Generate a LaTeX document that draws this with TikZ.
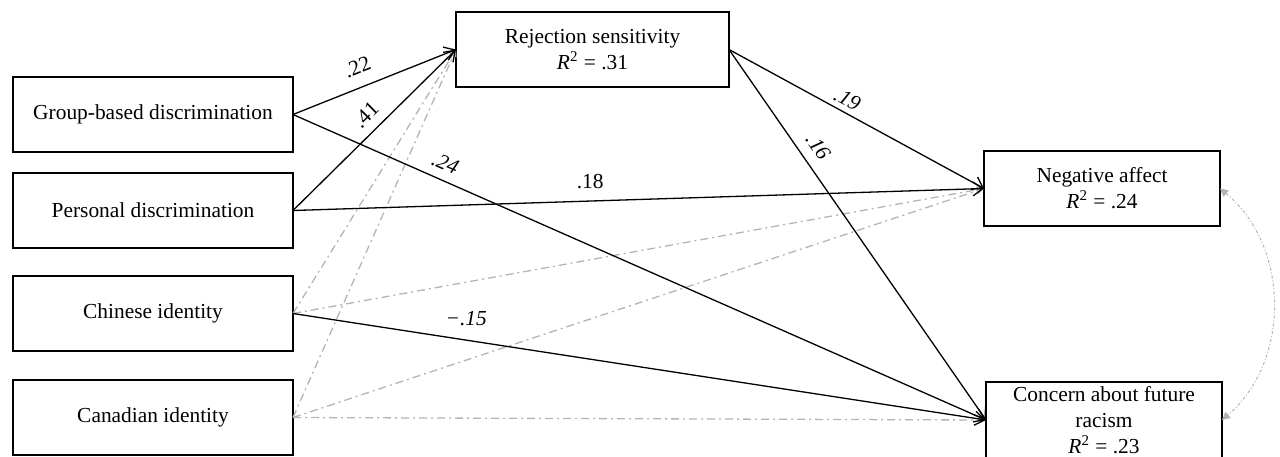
\documentclass[tikz,border=0pt]{standalone}
\usepackage{fontspec}
\setmainfont{Liberation Serif}
\usetikzlibrary{arrows.meta,positioning}
\definecolor{pathgray}{RGB}{180,180,180}
\tikzset{
  varbox/.style={rectangle, draw=black, line width=0.75pt, minimum width=140pt,
                 minimum height=37.5pt, align=center, inner sep=1pt, outer sep=0pt,
                 font=\fontsize{10.7pt}{13pt}\selectfont},
  sigpath/.style={-{Straight Barb[length=5pt,width=7pt]}, line width=0.65pt, black},
  nspath/.style={-{Triangle[length=3.5pt,width=3.5pt]}, line width=0.65pt, pathgray,
                 dash pattern=on 4pt off 2pt on 1pt off 2pt},
  corrpath/.style={{Triangle[length=4pt,width=4pt]}-{Triangle[length=4pt,width=4pt]},
                   line width=0.5pt, pathgray, dash pattern=on 1.5pt off 1pt on 0.5pt off 1pt},
  coef/.style={font=\fontsize{10.7pt}{13pt}\selectfont, inner sep=1pt},
  coefit/.style={coef, font=\fontsize{10.7pt}{13pt}\selectfont\itshape},
}

\begin{document}
\begin{tikzpicture}[x=0.5pt, y=-0.5pt]
\useasboundingbox (0,0) rectangle (1280,456);
% predictors
\node[varbox] (group) at (153,114.5) {Group-based discrimination};
\node[varbox, below=10.5pt of group] (personal) {Personal discrimination};
\node[varbox, below=14pt of personal] (chinese) {Chinese identity};
\node[varbox, below=14.5pt of chinese] (canadian) {Canadian identity};
% mediator and outcomes
\node[varbox, minimum width=136.5pt] (rs) at (592.5,49.5) {Rejection sensitivity\\\textit{R}\textsuperscript{2} = .31};
\node[varbox, minimum width=118pt] (neg) at (1102,188.5) {Negative affect\\\textit{R}\textsuperscript{2} = .24};
\node[varbox, minimum width=118pt, minimum height=38pt] (concern) at (1104,420) {Concern about future\\racism\\\textit{R}\textsuperscript{2} = .23};
% non-significant paths
\foreach \a/\b in {chinese/rs, chinese/neg, canadian/rs, canadian/neg, canadian/concern}
  \draw[nspath] (\a.east) -- (\b.west);
% significant paths
\draw[sigpath] (group.east) -- node[coef, sloped, above=5pt, pos=0.44] {.22} (rs.west);
\draw[sigpath] (personal.east) -- node[coef, sloped, above=3.5pt, pos=0.52] {.41} (rs.west);
\draw[sigpath] (group.east) -- node[coefit, sloped, above=3.5pt, pos=0.21] {.24} (concern.west);
\draw[sigpath] (personal.east) -- node[coef, above=5pt, pos=0.43] {.18} (neg.west);
\draw[sigpath] (chinese.east) -- node[coefit, above=6pt, pos=0.25] {−.15} (concern.west);
\draw[sigpath] (rs.east) -- node[coefit, sloped, above=1.5pt, pos=0.44] {.19} (neg.west);
\draw[sigpath] (rs.east) -- node[coefit, sloped, above=4pt, pos=0.29] {.16} (concern.west);
% residual covariance
\draw[corrpath] (neg.east) to[bend left=50] (concern.east);
\end{tikzpicture}
\end{document}
